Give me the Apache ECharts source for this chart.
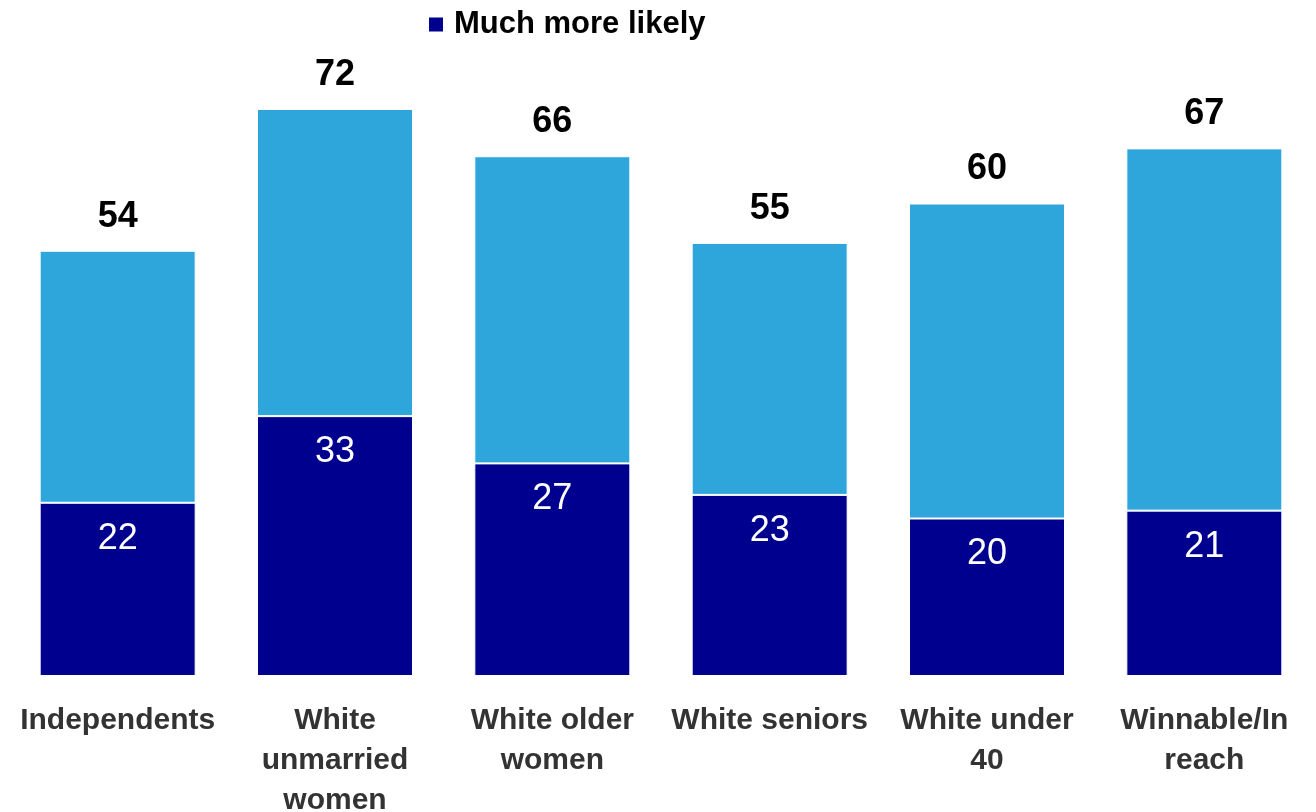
<!DOCTYPE html>
<html>
<head>
<meta charset="utf-8">
<script src="https://cdn.jsdelivr.net/npm/echarts@6/dist/echarts.min.js"></script>
<style>
html,body{margin:0;padding:0;background:#fff;}
#chart{width:1316px;height:812px;}
</style>
</head>
<body>
<div id="chart"></div>
<script>
const categories = ['Independents', 'White\nunmarried\nwomen', 'White older\nwomen', 'White seniors', 'White under\n40', 'Winnable/In\nreach'];
const muchMoreLikely = [22, 33, 27, 23, 20, 21];
const totalLikely = [54, 72, 66, 55, 60, 67];
const remainder = totalLikely.map((t, i) => t - muchMoreLikely[i]);

const FONT = '"Liberation Sans", Arial, sans-serif';
const chart = echarts.init(document.getElementById('chart'));
chart.setOption({
  animation: false,
  legend: {
    data: ['Much more likely'],
    left: 422,
    top: 4,
    itemWidth: 16,
    itemHeight: 16,
    icon: 'rect',
    textStyle: { fontFamily: FONT, fontSize: 31, fontWeight: 'bold', color: '#000', padding: [0, 0, 0, 5] }
  },
  grid: { left: 9, right: 3, top: 46, bottom: 136, outerBoundsMode: 'none', containLabel: false },
  xAxis: {
    type: 'category',
    data: categories,
    axisLine: { show: false },
    axisTick: { show: false },
    axisLabel: {
      interval: 0,
      margin: 25,
      fontFamily: FONT,
      fontSize: 30,
      fontWeight: 'bold',
      color: '#333',
      lineHeight: 40
    }
  },
  yAxis: {
    type: 'value',
    min: 0,
    max: 80,
    show: false,
    splitLine: { show: false }
  },
  series: [
    {
      name: 'Much more likely',
      type: 'bar',
      stack: 'total',
      data: muchMoreLikely,
      barWidth: 156,
      itemStyle: { color: '#00008F', borderColor: '#fff', borderWidth: 1 },
      label: {
        show: true,
        position: 'insideTop',
        distance: 18,
        color: '#fff',
        fontFamily: FONT,
        fontSize: 36
      }
    },
    {
      name: 'Somewhat more likely',
      type: 'bar',
      stack: 'total',
      data: remainder,
      barWidth: 156,
      itemStyle: { color: '#2EA6DC', borderColor: '#fff', borderWidth: 1 },
      label: {
        show: true,
        position: 'top',
        distance: 16,
        color: '#000',
        fontFamily: FONT,
        fontSize: 36,
        fontWeight: 'bold',
        formatter: p => totalLikely[p.dataIndex]
      }
    }
  ]
});
</script>
</body>
</html>
